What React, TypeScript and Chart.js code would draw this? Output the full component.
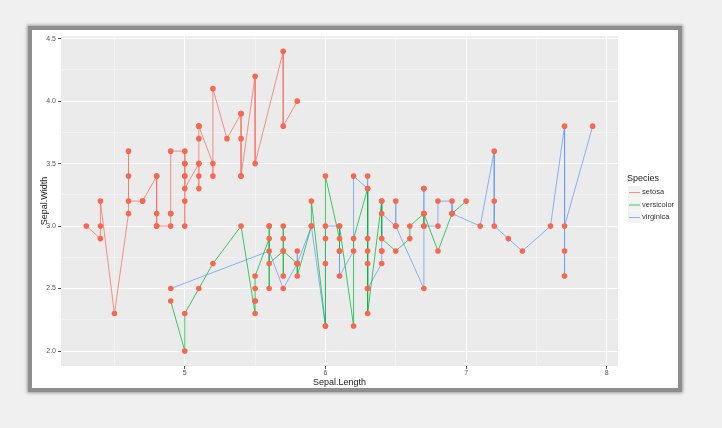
import React, { useEffect, useRef } from "react";
import { Chart, registerables } from "chart.js";
Chart.register(...registerables);

const species = ["setosa", "versicolor", "virginica"];
const lineColors = ["rgba(248,118,109,0.8)", "rgba(0,186,56,0.75)", "rgba(97,156,255,0.75)"];
const pointColor = "#F8684F";

const setosaLength = [5.1,4.9,4.7,4.6,5.0,5.4,4.6,5.0,4.4,4.9,5.4,4.8,4.8,4.3,5.8,5.7,5.4,5.1,5.7,5.1,5.4,5.1,4.6,5.1,4.8,5.0,5.0,5.2,5.2,4.7,4.8,5.4,5.2,5.5,4.9,5.0,5.5,4.9,4.4,5.1,5.0,4.5,4.4,5.0,5.1,4.8,5.1,4.6,5.3,5.0];
const setosaWidth = [3.5,3.0,3.2,3.1,3.6,3.9,3.4,3.4,2.9,3.1,3.7,3.4,3.0,3.0,4.0,4.4,3.9,3.5,3.8,3.8,3.4,3.7,3.6,3.3,3.4,3.0,3.4,3.5,3.4,3.2,3.1,3.4,4.1,4.2,3.1,3.2,3.5,3.6,3.0,3.4,3.5,2.3,3.2,3.5,3.8,3.0,3.8,3.2,3.7,3.3];
const versicolorLength = [7.0,6.4,6.9,5.5,6.5,5.7,6.3,4.9,6.6,5.2,5.0,5.9,6.0,6.1,5.6,6.7,5.6,5.8,6.2,5.6,5.9,6.1,6.3,6.1,6.4,6.6,6.8,6.7,6.0,5.7,5.5,5.5,5.8,6.0,5.4,6.0,6.7,6.3,5.6,5.5,5.5,6.1,5.8,5.0,5.6,5.7,5.7,6.2,5.1,5.7];
const versicolorWidth = [3.2,3.2,3.1,2.3,2.8,2.8,3.3,2.4,2.9,2.7,2.0,3.0,2.2,2.9,2.9,3.1,3.0,2.7,2.2,2.5,3.2,2.8,2.5,2.8,2.9,3.0,2.8,3.0,2.9,2.6,2.4,2.4,2.7,2.7,3.0,3.4,3.1,2.3,3.0,2.5,2.6,3.0,2.6,2.3,2.7,3.0,2.9,2.9,2.5,2.8];
const virginicaLength = [6.3,5.8,7.1,6.3,6.5,7.6,4.9,7.3,6.7,7.2,6.5,6.4,6.8,5.7,5.8,6.4,6.5,7.7,7.7,6.0,6.9,5.6,7.7,6.3,6.7,7.2,6.2,6.1,6.4,7.2,7.4,7.9,6.4,6.3,6.1,7.7,6.3,6.4,6.0,6.9,6.7,6.9,5.8,6.8,6.7,6.7,6.3,6.5,6.2,5.9];
const virginicaWidth = [3.3,2.7,3.0,2.9,3.0,3.0,2.5,2.9,2.5,3.6,3.2,2.7,3.0,2.5,2.8,3.2,3.0,3.8,2.6,2.2,3.2,2.8,2.8,2.7,3.3,3.2,2.8,3.0,2.8,3.0,2.8,3.8,2.8,2.8,2.6,3.0,3.4,3.1,3.0,3.1,3.1,3.1,2.7,3.2,3.3,3.0,2.5,3.0,3.4,3.0];

const xTickValues = [4.5, 5, 5.5, 6, 6.5, 7, 7.5, 8];
const xTickLabels = ["", "5", "", "6", "", "7", "", "8"];
const yTickValues = [2.0, 2.25, 2.5, 2.75, 3.0, 3.25, 3.5, 3.75, 4.0, 4.25, 4.5];
const yTickLabels = ["2.0", "", "2.5", "", "3.0", "", "3.5", "", "4.0", "", "4.5"];

const xTitle = "Sepal.Length";
const yTitle = "Sepal.Width";
const legendTitle = "Species";

const FONT = "'Liberation Sans', Arial, sans-serif";

function pairs(xs: number[], ys: number[]) {
  return xs.map((x, i) => ({ x, y: ys[i] }));
}
function sortedPairs(xs: number[], ys: number[]) {
  return pairs(xs, ys).sort((a, b) => a.x - b.x);
}

export default function App() {
  const ref = useRef<HTMLCanvasElement | null>(null);
  useEffect(() => {
    const canvas = ref.current;
    if (!canvas) return;
    const lengths = [setosaLength, versicolorLength, virginicaLength];
    const widths = [setosaWidth, versicolorWidth, virginicaWidth];
    const allPoints = lengths.flatMap((l, i) => pairs(l, widths[i]));

    const labelFor = (vals: number[], labels: string[], v: number) => {
      const idx = vals.findIndex((t) => Math.abs(t - v) < 1e-6);
      return idx >= 0 ? labels[idx] : "";
    };
    const isMajorX = (v: number) => labelFor(xTickValues, xTickLabels, v) !== "";
    const isMajorY = (v: number) => labelFor(yTickValues, yTickLabels, v) !== "";

    const bgPlugin = {
      id: "panelBg",
      beforeDraw(chart: any) {
        const { ctx, chartArea } = chart;
        ctx.save();
        ctx.fillStyle = "#EBEBEB";
        ctx.fillRect(chartArea.left, chartArea.top, chartArea.right - chartArea.left, chartArea.bottom - chartArea.top);
        ctx.restore();
      },
    };
    const legendPlugin = {
      id: "ggLegend",
      afterDraw(chart: any) {
        const ctx = chart.ctx;
        const x0 = chart.chartArea.right + 10;
        const y0 = 149;
        ctx.save();
        ctx.fillStyle = "#222";
        ctx.font = `9px ${FONT}`;
        ctx.textBaseline = "middle";
        ctx.textAlign = "left";
        ctx.fillText(legendTitle, x0 - 1, y0);
        species.forEach((s, i) => {
          const cy = y0 + 13 + i * 12.5;
          ctx.fillStyle = "#F2F2F2";
          ctx.fillRect(x0, cy - 6, 13, 12);
          ctx.strokeStyle = lineColors[i];
          ctx.lineWidth = 1;
          ctx.beginPath();
          ctx.moveTo(x0 + 1, cy + 0.5);
          ctx.lineTo(x0 + 12, cy + 0.5);
          ctx.stroke();
          ctx.fillStyle = "#333";
          ctx.font = `7.5px ${FONT}`;
          ctx.fillText(s, x0 + 14, cy);
        });
        ctx.restore();
      },
    };

    const chart = new Chart(canvas, {
      type: "scatter",
      data: {
        datasets: [
          {
            label: "points",
            data: allPoints,
            backgroundColor: pointColor,
            borderColor: pointColor,
            pointRadius: 2.8,
            pointBorderWidth: 0,
            showLine: false,
          } as any,
          ...species.map((s, i) => ({
            label: s,
            data: sortedPairs(lengths[i], widths[i]),
            showLine: true,
            borderColor: lineColors[i],
            borderWidth: 1,
            pointRadius: 0,
            pointHoverRadius: 0,
            tension: 0,
          })),
        ],
      },
      options: {
        responsive: false,
        animation: false,
        events: [],
        layout: { padding: { top: 2, right: 60, left: 0, bottom: 0 } },
        plugins: { legend: { display: false }, tooltip: { enabled: false } },
        scales: {
          x: {
            type: "linear",
            min: 4.12,
            max: 8.08,
            afterBuildTicks: (axis: any) => {
              axis.ticks = xTickValues.map((v) => ({ value: v }));
            },
            afterFit: (axis: any) => {
              axis.height = 22;
            },
            border: { display: false },
            grid: {
              color: (c: any) => (isMajorX(c.tick?.value) ? "#FFFFFF" : "#F6F6F6"),
              lineWidth: (c: any) => (isMajorX(c.tick?.value) ? 1 : 0.6),
              tickColor: (c: any) => (isMajorX(c.tick?.value) ? "#555" : "rgba(0,0,0,0)"),
              tickLength: 3,
            },
            ticks: {
              autoSkip: false,
              maxRotation: 0,
              padding: 0,
              color: "#555",
              font: { family: FONT, size: 7 },
              callback: (v: any) => labelFor(xTickValues, xTickLabels, Number(v)),
            },
            title: {
              display: true,
              text: xTitle,
              color: "#222",
              font: { family: FONT, size: 9 },
              padding: { top: 0, bottom: 0 },
            },
          },
          y: {
            type: "linear",
            min: 1.88,
            max: 4.52,
            afterBuildTicks: (axis: any) => {
              axis.ticks = yTickValues.map((v) => ({ value: v }));
            },
            afterFit: (axis: any) => {
              axis.width = 29;
            },
            border: { display: false },
            grid: {
              color: (c: any) => (isMajorY(c.tick?.value) ? "#FFFFFF" : "#F6F6F6"),
              lineWidth: (c: any) => (isMajorY(c.tick?.value) ? 1 : 0.6),
              tickColor: (c: any) => (isMajorY(c.tick?.value) ? "#555" : "rgba(0,0,0,0)"),
              tickLength: 3,
            },
            ticks: {
              autoSkip: false,
              padding: 2,
              color: "#555",
              font: { family: FONT, size: 7 },
              callback: (v: any) => labelFor(yTickValues, yTickLabels, Number(v)),
            },
            title: {
              display: true,
              text: yTitle,
              color: "#222",
              font: { family: FONT, size: 9 },
              padding: { top: 7, bottom: 0 },
            },
          },
        },
      },
      plugins: [bgPlugin, legendPlugin],
    } as any);
    return () => chart.destroy();
  }, []);

  return (
    <div style={{ position: "fixed", left: 0, top: 0, width: 722, height: 428, background: "#F0F0F0" }}>
      <div
        style={{
          position: "absolute",
          left: 28,
          top: 26,
          width: 646,
          height: 358,
          border: "4px solid #8E8E8E",
          boxShadow: "0 0 3px 1px rgba(0,0,0,0.35)",
          background: "#FFFFFF",
        }}
      >
        <canvas ref={ref} width={646} height={358} style={{ display: "block", width: 646, height: 358 }} />
      </div>
    </div>
  );
}
